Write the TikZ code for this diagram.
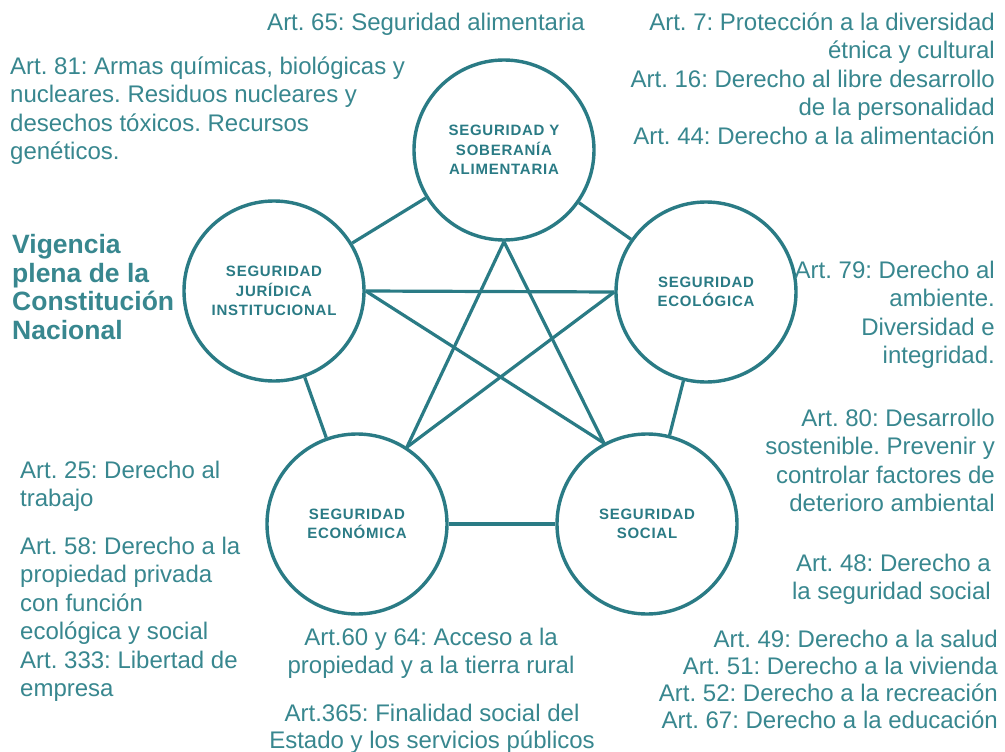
\documentclass[tikz,border=0pt]{standalone}
\usepackage{fontspec}
\setmainfont{Liberation Sans}
\definecolor{lc}{HTML}{2A7B85}
\definecolor{tc}{HTML}{38878F}
\tikzset{
  circ/.style={circle, draw=lc, line width=3.4pt, minimum size=180pt, inner sep=0pt,
    align=center, text=lc, font=\bfseries\fontsize{15}{19.5}\selectfont\addfontfeatures{LetterSpace=5}},
  link/.style={draw=lc, line width=3.2pt},
  art/.style={inner sep=0pt, text=tc, font=\frenchspacing\fontsize{24}{28.5}\selectfont},
  artb/.style={inner sep=0pt, text=tc, font=\frenchspacing\fontsize{24}{27.2}\selectfont},
  title/.style={inner sep=0pt, text=tc, font=\bfseries\fontsize{26.5}{28.7}\selectfont},
}
\begin{document}
\frenchspacing
\begin{tikzpicture}[x=1pt,y=-1pt]
\useasboundingbox[fill=white] (0,0) rectangle (1005,752);

\node[circ] (T) at (504,150) {SEGURIDAD Y\\SOBERANÍA\\ALIMENTARIA};
\node[circ] (J) at (274,291) {SEGURIDAD\\JURÍDICA\\INSTITUCIONAL};
\node[circ] (E) at (706,292) {SEGURIDAD\\ECOLÓGICA};
\node[circ] (Ec) at (357,524) {SEGURIDAD\\ECONÓMICA};
\node[circ] (S) at (647,524) {SEGURIDAD\\SOCIAL};

\draw[link] (T) -- (J);
\draw[link] (T) -- (E);
\draw[link] (J) -- (Ec);
\draw[link] (E) -- (S);
\draw[link] (Ec) -- (S);

\draw[link] (T.south) -- (Ec.57);
\draw[link] (T.south) -- (S.118);
\draw[link] (J.east) -- (E.west);
\draw[link] (J.east) -- (S.118);
\draw[link] (E.west) -- (Ec.57);

\node[art, anchor=north] (a65) at (426,12.5) {Art. 65: Seguridad alimentaria};
\node[art, anchor=north east, align=right] (a7) at (995,12.5)
  {Art. 7: Protección a la diversidad\\étnica y cultural\\Art. 16: Derecho al libre desarrollo\\de la personalidad\\Art. 44: Derecho a la alimentación};
\node[art, anchor=north west, align=left] (a81) at (10,56.5)
  {Art. 81: Armas químicas, biológicas y\\nucleares. Residuos nucleares y\\desechos tóxicos. Recursos\\genéticos.};
\node[title, anchor=north west, align=left] (vig) at (12,234)
  {Vigencia\\plena de la\\Constitución\\Nacional};
\node[art, anchor=north east, align=right] (a79) at (995,260.5)
  {Art. 79: Derecho al\\ambiente.\\Diversidad e\\integridad.};
\node[art, anchor=north east, align=right] (a80) at (995,408.5)
  {Art. 80: Desarrollo\\sostenible. Prevenir y\\controlar factores de\\deterioro ambiental};
\node[art, anchor=north east, align=right] (a48) at (991,553.5)
  {Art. 48: Derecho a\\la seguridad social};
\node[artb, anchor=north east, align=right] (a49) at (998,629.5)
  {Art. 49: Derecho a la salud\\Art. 51: Derecho a la vivienda\\Art. 52: Derecho a la recreación\\Art. 67: Derecho a la educación};
\node[art, anchor=north west, align=left] (a25) at (20,460.5)
  {Art. 25: Derecho al\\trabajo};
\node[art, anchor=north west, align=left] (a58) at (20,536.5)
  {Art. 58: Derecho a la\\propiedad privada\\con función\\ecológica y social\\Art. 333: Libertad de\\empresa};
\node[art, anchor=north, align=center] (a60) at (431,627.5)
  {Art.60 y 64: Acceso a la\\propiedad y a la tierra rural};
\node[artb, anchor=north, align=center] (a365) at (432,704)
  {Art.365: Finalidad social del\\Estado y los servicios públicos};
\end{tikzpicture}
\end{document}
